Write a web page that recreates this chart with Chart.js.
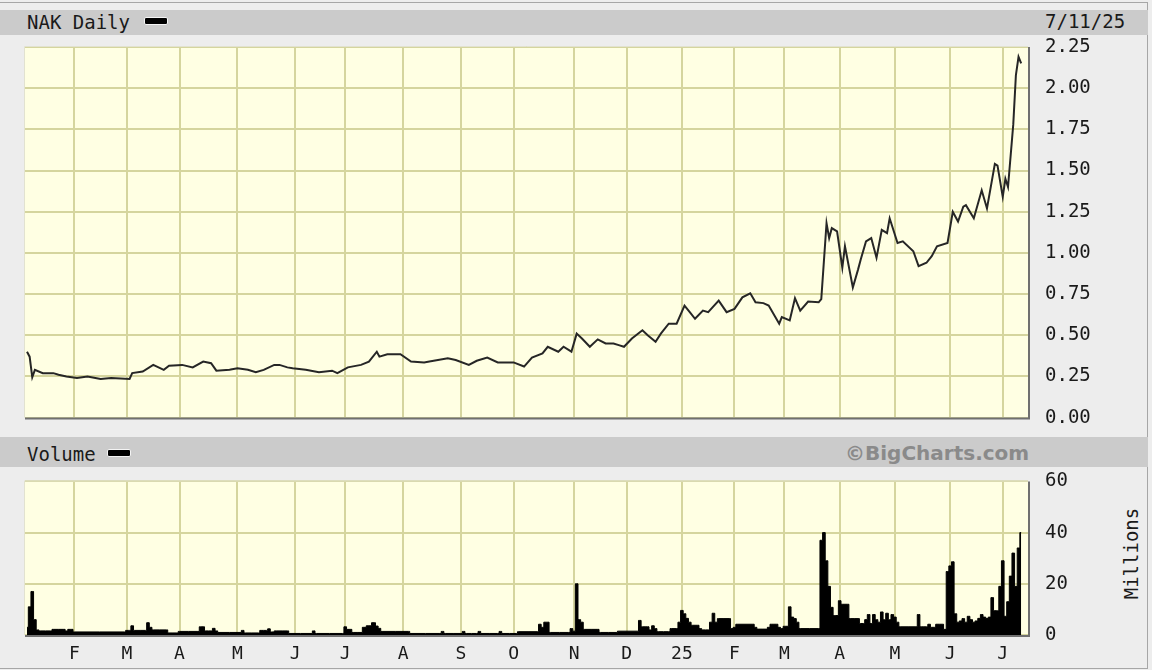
<!DOCTYPE html>
<html>
<head>
<meta charset="utf-8">
<script src="https://cdn.jsdelivr.net/npm/chart.js@4.4.1/dist/chart.umd.min.js"></script>
<style>
    body { margin: 0; width: 1152px; height: 670px; overflow: hidden; position: relative; background: #ededed; font-family: "DejaVu Sans Mono", monospace; }
    .frame { position: absolute; left: 0; top: 2px; width: 1147px; height: 665px; border: 1px solid #a6a6a6; border-left: none; }
    .band { position: absolute; left: 0; width: 1148px; background: #cbcbcb; }
    .txt { position: absolute; font-size: 19px; line-height: 19px; color: #1a1a1a; white-space: nowrap; }
    .swatch { position: absolute; width: 22px; height: 6px; background: #000; border: 1px solid #f4f4f4; border-radius: 2px; }
    .brand { position: absolute; font-family: "DejaVu Sans", sans-serif; font-weight: bold; font-size: 20px; line-height: 20px; color: #8a8a8a; }
    canvas { position: absolute; left: 0; }
</style>
</head>
<body>
<div class="frame"></div>

<div class="band" style="top:10px;height:25px;"></div>
<div class="txt" style="left:27px;top:13px;">NAK Daily</div>
<div class="swatch" style="left:144px;top:17px;"></div>
<div class="txt" style="left:1045px;top:12px;">7/11/25</div>

<div class="band" style="top:437px;height:30px;"></div>
<div class="txt" style="left:27px;top:445px;">Volume</div>
<div class="swatch" style="left:107px;top:449px;"></div>
<div class="brand" style="left:845px;top:443px;">©BigCharts.com</div>
<div class="txt" style="left:1084px;top:544px;transform:rotate(-90deg);transform-origin:center;width:94px;text-align:center;">Millions</div>

<canvas id="priceChart" width="1152" height="446" style="top:0;"></canvas>
<canvas id="volumeChart" width="1152" height="217" style="top:453px;"></canvas>

<script>
// trading-day index (0 = first day shown) and closing price
const priceDays = [
    0, 1, 2, 3, 6, 10, 12, 15, 19, 23, 28, 32, 39, 40, 44, 48, 52, 54, 59, 63,
    67, 70, 72, 77, 80, 84, 87, 90, 94, 96, 99, 101, 106, 111, 116, 118, 122, 127, 130, 133,
    134, 137, 142, 146, 151, 153, 160, 163, 168, 171, 175, 179, 185, 189, 192, 196, 198, 202, 204, 207,
    209, 211, 214, 217, 220, 223, 225, 227, 230, 234, 236, 239, 241, 244, 247, 250, 252, 254, 257, 259,
    263, 266, 269, 272, 275, 277, 280, 282, 286, 287, 290, 292, 294, 297, 301, 302, 304, 305, 306, 308,
    310, 311, 314, 316, 317, 319, 321, 323, 325, 327, 328, 331, 333, 337, 339, 342, 344, 346, 350, 352,
    354, 356, 357, 360, 363, 365, 368, 369, 371, 372, 373, 375, 376, 377, 378
];
const priceValues = [
    0.40, 0.37, 0.245, 0.29, 0.27, 0.27, 0.26, 0.25, 0.24, 0.25, 0.235, 0.24, 0.235, 0.27, 0.28, 0.32, 0.29, 0.315, 0.32, 0.305,
    0.34, 0.33, 0.285, 0.29, 0.30, 0.29, 0.275, 0.29, 0.32, 0.32, 0.305, 0.30, 0.29, 0.275, 0.285, 0.27, 0.305, 0.32, 0.34, 0.40,
    0.37, 0.385, 0.385, 0.34, 0.335, 0.34, 0.36, 0.35, 0.32, 0.345, 0.365, 0.335, 0.335, 0.31, 0.365, 0.39, 0.43, 0.40, 0.43, 0.40,
    0.51, 0.48, 0.43, 0.475, 0.45, 0.45, 0.44, 0.43, 0.48, 0.53, 0.50, 0.46, 0.51, 0.57, 0.57, 0.68, 0.64, 0.60, 0.65, 0.64,
    0.71, 0.64, 0.66, 0.73, 0.755, 0.70, 0.695, 0.68, 0.57, 0.61, 0.59, 0.725, 0.65, 0.705, 0.70, 0.72, 1.18, 1.09, 1.15, 1.13,
    0.91, 1.04, 0.79, 0.90, 0.96, 1.07, 1.09, 0.97, 1.14, 1.12, 1.21, 1.06, 1.07, 1.01, 0.92, 0.94, 0.98, 1.04, 1.06, 1.25,
    1.19, 1.28, 1.29, 1.21, 1.38, 1.27, 1.54, 1.53, 1.34, 1.45, 1.40, 1.78, 2.08, 2.19, 2.15
];

// volume in millions
const volumeDays = [
    0, 1, 2, 3, 4, 5, 9, 10, 14, 15, 16, 17, 18, 37, 38, 39, 40, 41, 45, 46,
    47, 48, 53, 54, 57, 58, 65, 66, 67, 68, 70, 71, 72, 73, 81, 82, 83, 88, 89, 91,
    92, 93, 95, 99, 100, 108, 109, 110, 120, 121, 122, 123, 124, 127, 128, 130, 132, 133, 134, 135,
    145, 146, 157, 158, 159, 165, 166, 167, 171, 172, 173, 179, 180, 181, 186, 187, 194, 195, 196, 197,
    198, 199, 206, 207, 208, 209, 210, 211, 212, 217, 218, 224, 225, 232, 233, 234, 236, 237, 238, 239,
    240, 244, 245, 247, 248, 249, 250, 251, 252, 253, 255, 256, 257, 259, 260, 261, 262, 263, 267, 268,
    269, 270, 276, 277, 278, 281, 282, 283, 285, 286, 287, 288, 289, 290, 291, 292, 293, 294, 301, 302,
    303, 304, 305, 306, 307, 308, 309, 310, 312, 313, 316, 317, 318, 319, 320, 321, 322, 323, 324, 325,
    326, 327, 328, 329, 330, 331, 332, 338, 339, 340, 342, 343, 344, 345, 346, 348, 349, 350, 351, 352,
    353, 354, 355, 356, 357, 358, 359, 360, 361, 362, 363, 364, 365, 366, 367, 368, 369, 370, 371, 372,
    373, 374, 375, 376, 377, 378
];
const volumeValues = [
    3, 11, 17, 6, 2, 1.6, 1.6, 2.2, 2.2, 1.6, 2.2, 2.2, 1.2, 1.2, 1.8, 1.8, 3.6, 1.8, 1.8, 4.8,
    3, 2, 2, 0.8, 0.8, 1.4, 1.4, 3.2, 3.2, 1.6, 1.6, 2.6, 1.6, 1, 1, 1.8, 0.8, 0.8, 1.8, 1.8,
    2.4, 1.2, 1.6, 1.6, 0.6, 0.6, 1.6, 0.6, 0.6, 3.2, 2.2, 2.2, 1, 1, 3, 3.6, 4.8, 3.5, 2.6, 1.4,
    1.4, 0.6, 0.6, 1.4, 0.6, 0.6, 1.4, 0.6, 0.6, 1.4, 0.6, 0.6, 1.4, 0.6, 0.6, 1.3, 1.3, 4.2, 3, 5,
    5, 1, 1, 2.5, 1.5, 20, 6, 5, 2.2, 2.2, 1, 1, 1.5, 1.5, 5.7, 3.2, 3.2, 2, 3.6, 2.5,
    1.3, 1.3, 2.5, 2.5, 5, 9.6, 8.3, 6.5, 5, 3.8, 3.8, 2.5, 2, 2, 5, 8.5, 5, 6.4, 6.4, 2.5,
    3, 4.2, 4.2, 3, 2.3, 2.3, 3, 4.2, 4.2, 3, 2.5, 3.4, 3.4, 11, 7, 6.4, 5, 2.5, 2.5, 37,
    40, 29, 19, 10.8, 7.6, 7.6, 13.4, 12, 12, 6.4, 6.4, 4.5, 4.5, 6, 8, 4.5, 8, 6, 5, 9,
    6, 8.5, 6, 8, 7, 5, 3.2, 3.2, 8, 3.2, 3.2, 4.2, 3, 3, 4.2, 4.2, 2.2, 24.8, 27, 28.6,
    8.3, 5, 5.5, 6.4, 5, 7.3, 6, 5, 5.5, 6.5, 8, 7, 6.5, 7, 14.6, 9.5, 9.5, 19, 29, 7.3,
    13, 23, 32, 19, 34, 40
];

// first trading day of each month
const monthDays = [18, 38, 58, 80, 102, 121, 143, 165, 185, 208, 228, 249, 269, 288, 309, 330, 351, 371];
const monthLabels = ['F', 'M', 'A', 'M', 'J', 'J', 'A', 'S', 'O', 'N', 'D', '25', 'F', 'M', 'A', 'M', 'J', 'J'];
const priceTicks = [0, 0.25, 0.5, 0.75, 1, 1.25, 1.5, 1.75, 2, 2.25];
const volumeTicks = [0, 20, 40, 60];

const X_MIN = -0.76;
const X_MAX = 380.6;
const GRID = '#d5d59e';
const tickFont = { family: 'DejaVu Sans Mono', size: 19 };

// yellow plot background and dark shadow edge
const plotBox = {
    id: 'plotBox',
    beforeDraw(chart) {
        const { ctx, chartArea: a } = chart;
        ctx.save();
        ctx.fillStyle = '#ffffe3';
        ctx.fillRect(a.left, a.top, a.right - a.left, a.bottom - a.top);
        ctx.restore();
    },
    afterDraw(chart) {
        const { ctx, chartArea: a } = chart;
        ctx.save();
        ctx.strokeStyle = '#707070';
        ctx.lineWidth = 2;
        ctx.beginPath();
        ctx.moveTo(a.left, a.bottom + 1);
        ctx.lineTo(a.right + 1, a.bottom + 1);
        ctx.lineTo(a.right + 1, a.top);
        ctx.stroke();
        ctx.strokeStyle = '#e2e2d0';
        ctx.lineWidth = 1;
        ctx.beginPath();
        ctx.moveTo(a.left - 0.5, a.bottom);
        ctx.lineTo(a.left - 0.5, a.top - 0.5);
        ctx.lineTo(a.right, a.top - 0.5);
        ctx.stroke();
        ctx.restore();
    }
};

function monthAxis(showLabels) {
    return {
        type: 'linear',
        min: X_MIN,
        max: X_MAX,
        afterBuildTicks: axis => { axis.ticks = monthDays.map(v => ({ value: v })); },
        ticks: {
            display: showLabels,
            autoSkip: false,
            maxRotation: 0,
            color: '#1a1a1a',
            font: { family: 'DejaVu Sans Mono', size: 18 },
            padding: 9,
            callback: (v, i) => monthLabels[i]
        },
        grid: { color: GRID, lineWidth: 2, drawTicks: false },
        border: { display: false },
        afterFit: s => { s.height = showLabels ? 35 : 0; }
    };
}

new Chart(document.getElementById('priceChart'), {
    type: 'line',
    data: {
        datasets: [{
            data: priceDays.map((d, i) => ({ x: d, y: priceValues[i] })),
            borderColor: '#262626',
            borderWidth: 2,
            pointRadius: 0,
            tension: 0
        }]
    },
    options: {
        responsive: false,
        animation: false,
        layout: { padding: { left: 25, top: 47, right: 0, bottom: 12 } },
        plugins: { legend: { display: false }, tooltip: { enabled: false } },
        scales: {
            x: monthAxis(false),
            y: {
                position: 'right',
                min: 0,
                max: 2.25,
                afterBuildTicks: axis => { axis.ticks = priceTicks.map(v => ({ value: v })); },
                ticks: { color: '#1a1a1a', font: tickFont, padding: 17, callback: v => v.toFixed(2) },
                grid: { color: GRID, lineWidth: 2, drawTicks: false },
                border: { display: false },
                afterFit: s => { s.width = 124; }
            }
        }
    },
    plugins: [plotBox]
});

new Chart(document.getElementById('volumeChart'), {
    type: 'line',
    data: {
        datasets: [{
            data: volumeDays.map((d, i) => ({ x: d, y: volumeValues[i] })),
            stepped: 'middle',
            fill: 'origin',
            backgroundColor: '#000',
            borderColor: '#000',
            borderWidth: 1,
            pointRadius: 0
        }]
    },
    options: {
        responsive: false,
        animation: false,
        layout: { padding: { left: 25, top: 10, right: 0, bottom: 0 } },
        plugins: { legend: { display: false }, tooltip: { enabled: false } },
        scales: {
            x: monthAxis(true),
            y: {
                position: 'right',
                min: 0,
                max: 60,
                afterBuildTicks: axis => { axis.ticks = volumeTicks.map(v => ({ value: v })); },
                ticks: { color: '#1a1a1a', font: tickFont, padding: 17 },
                grid: { color: GRID, lineWidth: 2, drawTicks: false },
                border: { display: false },
                afterFit: s => { s.width = 124; }
            }
        }
    },
    plugins: [plotBox]
});
</script>
</body>
</html>
